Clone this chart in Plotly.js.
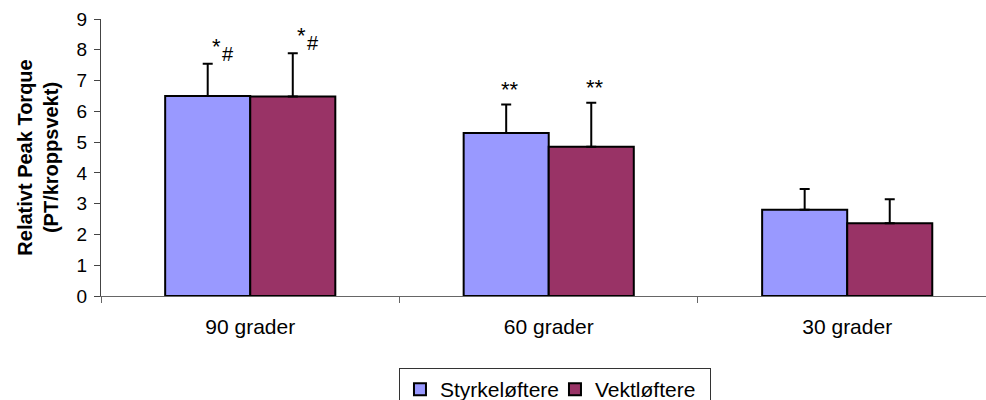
<!DOCTYPE html>
<html>
<head>
<meta charset="utf-8">
<script src="https://cdn.plot.ly/plotly-3.0.1.min.js"></script>
<style>html,body{margin:0;padding:0;background:#fff;}#chart{width:986px;height:400px;}</style>
</head>
<body>
<div id="chart"></div>
<script>
const categories = ["90 grader", "60 grader", "30 grader"];
const seriesNames = ["Styrkeløftere", "Vektløftere"];
const styrkeValues = [6.5, 5.3, 2.8];
const styrkeErrors = [1.05, 0.92, 0.68];
const vektValues = [6.48, 4.85, 2.36];
const vektErrors = [1.41, 1.43, 0.78];
const styrkeMarks = ["*#", "**", ""];
const vektMarks = ["*#", "**", ""];
const yTickValues = [0, 1, 2, 3, 4, 5, 6, 7, 8, 9];
const yTitle = "Relativt Peak Torque<br>(PT/kroppsvekt)";

const FONT = "Liberation Sans, Arial, sans-serif";

function barTrace(name, values, errors, color, offsetgroup) {
  return {
    type: "bar",
    name: name,
    x: categories,
    y: values,
    marker: {color: color, line: {color: "#000", width: 2}},
    error_y: {type: "data", symmetric: false, array: errors,
              arrayminus: errors.map(() => 0), color: "#000", thickness: 2, width: 5},
    offsetgroup: offsetgroup
  };
}

const data = [
  barTrace(seriesNames[0], styrkeValues, styrkeErrors, "#9999FF", "a"),
  barTrace(seriesNames[1], vektValues, vektErrors, "#993366", "b")
];

const annotations = [];
function note(cat, y, text, xshift, yshift, size) {
  annotations.push({
    x: cat, y: y, xref: "x", yref: "y", text: text, showarrow: false,
    xshift: xshift, yanchor: "bottom", yshift: yshift,
    font: {family: FONT, size: size, color: "#000"}
  });
}
function addMarks(marks, values, errors, side) {
  marks.forEach((m, i) => {
    if (!m) return;
    const top = values[i] + errors[i];
    const base = side * 42.5;
    if (m.indexOf("#") >= 0) {
      const stars = m.replace(/#/g, "");
      note(categories[i], top, stars, base + 9, 3, 22);
      note(categories[i], top, "#", base + 20, -3, 20);
    } else {
      note(categories[i], top, m, base + 4, 1, 22);
    }
  });
}
addMarks(styrkeMarks, styrkeValues, styrkeErrors, -1);
addMarks(vektMarks, vektValues, vektErrors, 1);

const layout = {
  width: 986, height: 400,
  margin: {l: 101, r: 0, t: 19, b: 104, autoexpand: false},
  paper_bgcolor: "#fff", plot_bgcolor: "#fff",
  barmode: "group", bargap: 0.43, bargroupgap: 0,
  font: {family: FONT, size: 20, color: "#000"},
  showlegend: true,
  legend: {
    orientation: "h", x: 0.3367, xanchor: "left", xref: "paper",
    y: -0.26, yanchor: "top",
    bordercolor: "#333", borderwidth: 1,
    font: {family: FONT, size: 21, color: "#000"},
    traceorder: "normal", entrywidth: 110, entrywidthmode: "pixels"
  },
  xaxis: {
    type: "category", range: [-0.5, 2.465], automargin: false,
    showline: true, linecolor: "#666", linewidth: 1,
    ticks: "outside", tickson: "boundaries", ticklen: 6, tickcolor: "#666",
    ticklabelstandoff: 12,
    showgrid: false, zeroline: false,
    tickfont: {family: FONT, size: 21, color: "#000"}
  },
  yaxis: {
    range: [0, 9], tickvals: yTickValues, automargin: false,
    showline: true, linecolor: "#444", linewidth: 1,
    ticks: "outside", ticklen: 6, tickcolor: "#444",
    ticklabelstandoff: 3,
    showgrid: false, zeroline: false,
    tickfont: {family: FONT, size: 19, color: "#000"},
    title: {text: yTitle, font: {family: FONT, size: 20, color: "#000", weight: "bold"}, standoff: 12}
  },
  annotations: annotations
};

Plotly.newPlot("chart", data, layout, {displayModeBar: false, staticPlot: true});
</script>
</body>
</html>
